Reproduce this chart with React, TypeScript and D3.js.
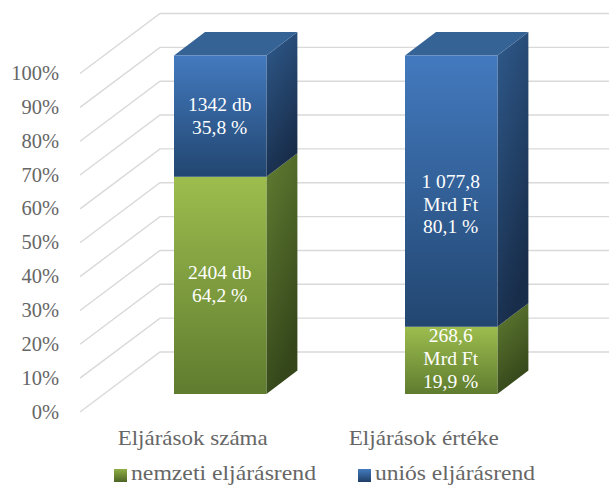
import React from "react";
import * as d3 from "d3";

const categories = ["Eljárások száma", "Eljárások értéke"];
const nationalShare = [64.2, 19.9];
const unionShare = [35.8, 80.1];
const nationalLabels = [["2404 db", "64,2 %"], ["268,6", "Mrd Ft", "19,9 %"]];
const unionLabels = [["1342 db", "35,8 %"], ["1 077,8", "Mrd Ft", "80,1 %"]];
const ticks = [0, 10, 20, 30, 40, 50, 60, 70, 80, 90, 100];
const legendItems = ["nemzeti eljárásrend", "uniós eljárásrend"];

const W = 609, H = 485;
const FONT = "'Liberation Serif', serif";
const depthX = 31, depthY = 23.5;

const axisY = d3.scaleLinear().domain([0, 100]).range([412, 73.5]);
const barY = d3.scaleLinear().domain([0, 100]).range([394, 55.5]);
const xBand = d3.scaleBand().domain(categories).range([104.7, 566.7]).paddingInner(0.6).paddingOuter(0.3);

const front = (x: number, y0: number, y1: number, w: number) =>
  `M${x},${y0}H${x + w}V${y1}H${x}Z`;
const side = (x: number, y0: number, y1: number) =>
  `M${x},${y0}L${x + depthX},${y0 - depthY}V${y1 - depthY}L${x},${y1}Z`;
const top = (x: number, y: number, w: number) =>
  `M${x},${y}L${x + depthX},${y - depthY}H${x + w + depthX}L${x + w},${y}Z`;

function Grad({ id, a, b, diag }: { id: string; a: string; b: string; diag?: boolean }) {
  return (
    <linearGradient id={id} x1="0" y1="0" x2={diag ? "0.35" : "0"} y2="1">
      <stop offset="0" stopColor={a} />
      <stop offset="1" stopColor={b} />
    </linearGradient>
  );
}

export default function App() {
  const bw = xBand.bandwidth();
  return (
    <svg width={W} height={H} viewBox={`0 0 ${W} ${H}`}
      style={{ position: "absolute", left: 0, top: 0, background: "#fff", display: "block" }}>
      <defs>
        <Grad id="gf" a="#9dbd4e" b="#5f7c2f" />
        <Grad id="gs" a="#617d32" b="#34461a" diag />
        <Grad id="bf" a="#437abf" b="#224670" />
        <Grad id="bs" a="#2f5a8c" b="#182d4a" diag />
        <Grad id="lg" a="#8fae45" b="#4c6426" />
        <Grad id="lb" a="#437abf" b="#1f3f66" />
      </defs>

      {ticks.map((t) => (
        <g key={t}>
          <path d={`M80,${axisY(t)}L160,${axisY(t) - 60}H609`} fill="none" stroke="#d9d9d9" strokeWidth={1.4} />
          <text x={59} y={axisY(t) + 6.5} textAnchor="end" fontFamily={FONT} fontSize={20.5} fill="#666">{t}%</text>
        </g>
      ))}

      {categories.map((c, i) => {
        const x = xBand(c)!;
        const y0 = barY(0), yM = barY(nationalShare[i]), yT = barY(nationalShare[i] + unionShare[i]);
        const cx = x + bw / 2 - 0.5;
        const gLines = nationalLabels[i];
        const bLines = unionLabels[i];
        const gStart = gLines.length === 3 ? 341.7 : 279;
        const bStart = bLines.length === 3 ? 187.6 : 111;
        return (
          <g key={c}>
            <path d={side(x + bw, y0, yM)} fill="url(#gs)" />
            <path d={side(x + bw, yM, yT)} fill="url(#bs)" />
            <path d={top(x, yT, bw)} fill="#366396" />
            <path d={front(x, y0, yM, bw)} fill="url(#gf)" />
            <path d={front(x, yM, yT, bw)} fill="url(#bf)" />
            {gLines.map((l, j) => (
              <text key={j} x={cx} y={gStart + j * 22.9} textAnchor="middle" fontFamily={FONT} fontSize={19.5} fill="#fff">{l}</text>
            ))}
            {bLines.map((l, j) => (
              <text key={j} x={cx} y={bStart + j * 22.9} textAnchor="middle" fontFamily={FONT} fontSize={19.5} fill="#fff">{l}</text>
            ))}
            <text x={cx - 27} y={445} textAnchor="middle" fontFamily={FONT} fontSize={22} fill="#666"
              textLength={150} lengthAdjust="spacingAndGlyphs">{c}</text>
          </g>
        );
      })}

      {legendItems.map((l, i) => {
        const sx = i === 0 ? 114 : 358;
        return (
          <g key={l}>
            <rect x={sx} y={469} width={13} height={13} fill={i === 0 ? "url(#lg)" : "url(#lb)"} />
            <text x={sx + 17} y={480.2} fontFamily={FONT} fontSize={21.5} fill="#666"
              textLength={i === 0 ? 185 : 160} lengthAdjust="spacingAndGlyphs">{l}</text>
          </g>
        );
      })}
    </svg>
  );
}
